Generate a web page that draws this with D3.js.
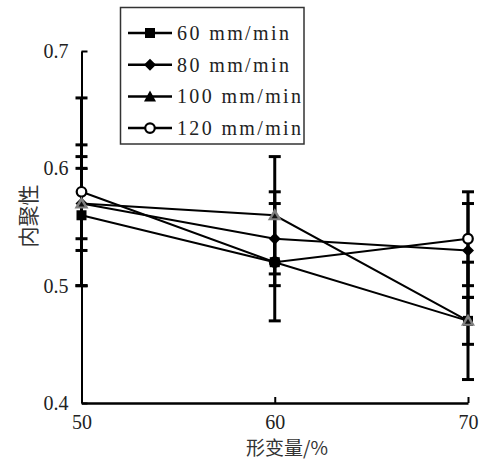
<!DOCTYPE html>
<html><head><meta charset="utf-8">
<script src="https://cdn.jsdelivr.net/npm/d3@7"></script>
<style>body{margin:0;background:#fff}</style>
</head><body>
<script>
const deform = [50, 60, 70];
const seriesNames = ["60 mm/min", "80 mm/min", "100 mm/min", "120 mm/min"];
const v60 = [0.56, 0.52, 0.47];
const e60 = [0.06, 0.05, 0.02];
const v80 = [0.57, 0.54, 0.53];
const e80 = [0.03, 0.04, 0.04];
const v100 = [0.57, 0.56, 0.47];
const e100 = [0.04, 0.05, 0.05];
const v120 = [0.58, 0.52, 0.54];
const e120 = [0.08, 0.0, 0.04];
const yTicks = [0.4, 0.5, 0.6, 0.7];
const xTicks = [50, 60, 70];
const xTitle = "形变量/%";
const yTitle = "内聚性";

const W = 486, H = 461;
const svg = d3.select("body").append("svg").attr("width", W).attr("height", H);
const x = d3.scaleLinear().domain([50, 70]).range([81.5, 468]);
const y = d3.scaleLinear().domain([0.4, 0.7]).range([403, 51]);

const series = [
  {name: seriesNames[0], v: v60, e: e60, sym: "square"},
  {name: seriesNames[1], v: v80, e: e80, sym: "diamond"},
  {name: seriesNames[2], v: v100, e: e100, sym: "triangle"},
  {name: seriesNames[3], v: v120, e: e120, sym: "circle"}
];

const serif = "'Liberation Serif', Tinos, 'Times New Roman', 'DejaVu Serif', serif";
const cjk = "'Noto Sans CJK SC', 'Noto Sans CJK JP', sans-serif";

// axes
const ya = svg.append("g").attr("transform", `translate(${x(50)},0)`)
  .call(d3.axisLeft(y).tickValues(yTicks).tickSize(-6).tickSizeOuter(0).tickPadding(13).tickFormat(d3.format(".1f")));
const xa = svg.append("g").attr("transform", `translate(0,${y(0.4)})`)
  .call(d3.axisBottom(x).tickValues(xTicks).tickSize(-6).tickSizeOuter(0).tickPadding(12));
[ya, xa].forEach(g => {
  g.attr("font-family", serif).attr("font-size", 20);
  g.selectAll("text").style("font-family", serif).style("font-size", "20px").attr("fill", "#222");
  g.selectAll("line").attr("stroke", "#000").attr("stroke-width", 2);
});
ya.select(".domain").attr("stroke", "#000").attr("stroke-width", 2);
xa.select(".domain").attr("stroke", "#000").attr("stroke-width", 2.5);

// error bars
const capW = 6;
series.forEach(s => {
  const g = svg.append("g");
  deform.forEach((d, i) => {
    if (s.e[i] <= 0) return;
    const hi = y(s.v[i] + s.e[i]), lo = y(s.v[i] - s.e[i]);
    g.append("line").attr("x1", x(d)).attr("x2", x(d)).attr("y1", hi).attr("y2", lo)
      .attr("stroke", "#000").attr("stroke-width", 3);
    [hi, lo].forEach(yy => g.append("line").attr("x1", x(d) - capW).attr("x2", x(d) + capW)
      .attr("y1", yy).attr("y2", yy).attr("stroke", "#000").attr("stroke-width", 3));
  });
});

// lines
const line = d3.line().x((d, i) => x(deform[i])).y(d => y(d));
series.forEach(s => {
  svg.append("path").attr("d", line(s.v)).attr("fill", "none").attr("stroke", "#000").attr("stroke-width", 2);
});

function marker(g, sym, cx, cy, inPlot) {
  if (sym === "square") {
    g.append("rect").attr("x", cx - 5).attr("y", cy - 5).attr("width", 10).attr("height", 10).attr("fill", "#000");
  } else if (sym === "diamond") {
    g.append("path").attr("d", `M${cx},${cy-6}L${cx+6},${cy}L${cx},${cy+6}L${cx-6},${cy}Z`).attr("fill", "#000");
  } else if (sym === "triangle") {
    if (inPlot) {
      g.append("path").attr("d", `M${cx},${cy-7}L${cx+7},${cy+5}L${cx-7},${cy+5}Z`).attr("fill", "#808080");
      g.append("path").attr("d", `M${cx},${cy-2}L${cx+3},${cy+3}L${cx-3},${cy+3}Z`).attr("fill", "#111");
    } else {
      g.append("path").attr("d", `M${cx},${cy-6}L${cx+6},${cy+5}L${cx-6},${cy+5}Z`).attr("fill", "#000");
    }
  } else {
    g.append("circle").attr("cx", cx).attr("cy", cy).attr("r", 4.8).attr("fill", "#fff").attr("stroke", "#000").attr("stroke-width", 2.2);
  }
}

// markers: draw order so overlaps match
const order = [3, 0, 1, 2];
order.forEach(k => {
  const s = series[k];
  const g = svg.append("g");
  deform.forEach((d, i) => marker(g, s.sym, x(d), y(s.v[i]), true));
});

// legend
const lg = svg.append("g");
lg.append("rect").attr("x", 120.5).attr("y", 7.5).attr("width", 183.5).attr("height", 136.5)
  .attr("fill", "#fff").attr("stroke", "#333").attr("stroke-width", 1.5);
series.forEach((s, i) => {
  const yy = 33 + i * 31.7;
  lg.append("line").attr("x1", 128).attr("x2", 172).attr("y1", yy).attr("y2", yy).attr("stroke", "#000").attr("stroke-width", 2.5);
  marker(lg, s.sym, 150, yy, false);
  lg.append("text").attr("x", 177).attr("y", yy).attr("dy", "0.35em")
    .style("font-family", serif).style("font-size", "20px").attr("fill", "#222")
    .attr("textLength", s.name.length === 9 ? 112 : 124).attr("lengthAdjust", "spacing")
    .text(s.name);
});

// titles
svg.append("text").attr("x", 287).attr("y", 455).attr("text-anchor", "middle")
  .style("font-family", cjk).style("font-size", "19px").attr("fill", "#333").text(xTitle);
svg.append("text").attr("transform", "translate(36,216) rotate(-90)").attr("text-anchor", "middle")
  .style("font-family", cjk).style("font-size", "21px").attr("fill", "#333").text(yTitle);
</script>
</body></html>
